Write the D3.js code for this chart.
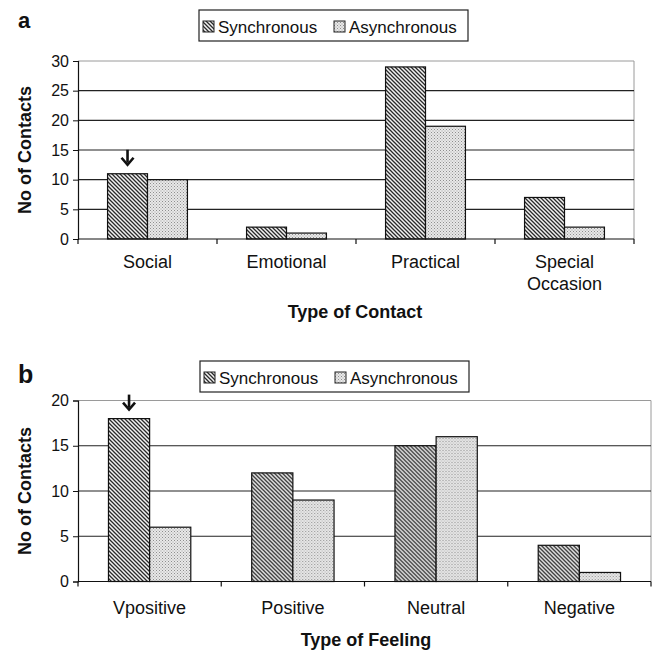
<!DOCTYPE html>
<html>
<head>
<meta charset="utf-8">
<script src="https://cdn.jsdelivr.net/npm/d3@7"></script>
<style>
  body { margin: 0; background: #fff; }
  svg text { font-family: "Liberation Sans", Arial, sans-serif; fill: #111; }
</style>
</head>
<body>
<div id="chart"></div>
<script>
const seriesNames = ['Synchronous', 'Asynchronous'];

const contactTypes = ['Social', 'Emotional', 'Practical', 'Special Occasion'];
const contactSync = [11, 2, 29, 7];
const contactAsync = [10, 1, 19, 2];
const contactTicks = [0, 5, 10, 15, 20, 25, 30];

const feelingTypes = ['Vpositive', 'Positive', 'Neutral', 'Negative'];
const feelingSync = [18, 12, 15, 4];
const feelingAsync = [6, 9, 16, 1];
const feelingTicks = [0, 5, 10, 15, 20];

const svg = d3.select('#chart')
  .append('svg')
  .attr('width', 653)
  .attr('height', 650);

const defs = svg.append('defs');

const hatch = defs.append('pattern')
  .attr('id', 'hatch')
  .attr('patternUnits', 'userSpaceOnUse')
  .attr('width', 4)
  .attr('height', 4);
hatch.append('rect').attr('width', 4).attr('height', 4).attr('fill', '#f2f2f2');
hatch.append('path')
  .attr('d', 'M-1,-1L5,5M3,-1L5,1M-1,3L1,5')
  .attr('stroke', '#2a2a2a')
  .attr('stroke-width', 1.3);

const dots = defs.append('pattern')
  .attr('id', 'dots')
  .attr('patternUnits', 'userSpaceOnUse')
  .attr('width', 3)
  .attr('height', 3);
dots.append('rect').attr('width', 3).attr('height', 3).attr('fill', '#e8e8e8');
dots.append('rect').attr('width', 1).attr('height', 1).attr('fill', '#8e8e8e');
dots.append('rect').attr('x', 1.5).attr('y', 1.5).attr('width', 1).attr('height', 1).attr('fill', '#a0a0a0');

const fills = { Synchronous: 'url(#hatch)', Asynchronous: 'url(#dots)' };

function drawPanel(opts) {
  const g = svg.append('g');
  const rows = opts.categories.map((c, i) => ({
    category: c,
    values: [
      { series: 'Synchronous', value: opts.sync[i] },
      { series: 'Asynchronous', value: opts.async[i] },
    ],
  }));

  const x0 = d3.scaleBand()
    .domain(opts.categories)
    .range([opts.left, opts.right])
    .padding(0);

  const x1 = d3.scaleBand()
    .domain(seriesNames)
    .range([0, x0.bandwidth()])
    .paddingInner(0)
    .paddingOuter(0.74);

  const y = d3.scaleLinear()
    .domain([0, d3.max(opts.ticks)])
    .range([opts.bottom, opts.top]);

  // plot border (top, right) in grey
  g.append('path')
    .attr('d', `M${opts.left},${opts.top}H${opts.right}V${opts.bottom}`)
    .attr('fill', 'none')
    .attr('stroke', '#9a9a9a')
    .attr('stroke-width', 1);

  // gridlines
  g.selectAll('.grid')
    .data(opts.ticks.slice(1, -1))
    .enter()
    .append('line')
    .attr('x1', opts.left)
    .attr('x2', opts.right)
    .attr('y1', d => y(d))
    .attr('y2', d => y(d))
    .attr('stroke', '#222')
    .attr('stroke-width', 1.2);

  // bars
  const groups = g.selectAll('.grp')
    .data(rows)
    .enter()
    .append('g')
    .attr('transform', d => `translate(${x0(d.category)},0)`);

  groups.selectAll('rect')
    .data(d => d.values)
    .enter()
    .append('rect')
    .attr('x', d => x1(d.series))
    .attr('y', d => y(d.value))
    .attr('width', x1.bandwidth())
    .attr('height', d => y(0) - y(d.value))
    .attr('fill', d => fills[d.series])
    .attr('stroke', '#111')
    .attr('stroke-width', 1.2);

  // y axis
  const yAxis = g.append('g')
    .attr('transform', `translate(${opts.left},0)`)
    .call(d3.axisLeft(y).tickValues(opts.ticks).tickSize(5).tickPadding(4));
  yAxis.select('.domain').attr('stroke', '#111').attr('stroke-width', 1.2);
  yAxis.selectAll('.tick line').attr('stroke', '#111');
  yAxis.selectAll('.tick text')
    .attr('font-size', 16)
    .attr('fill', '#111')
    .style('font-family', '"Liberation Sans", Arial, sans-serif');

  // x axis line and ticks at band boundaries
  g.append('line')
    .attr('x1', opts.left)
    .attr('x2', opts.right)
    .attr('y1', y(0))
    .attr('y2', y(0))
    .attr('stroke', '#111')
    .attr('stroke-width', 1.2);

  const bounds = opts.categories.map(c => x0(c)).concat([opts.right]);
  g.selectAll('.xtick')
    .data(bounds)
    .enter()
    .append('line')
    .attr('x1', d => d)
    .attr('x2', d => d)
    .attr('y1', y(0))
    .attr('y2', y(0) + 5)
    .attr('stroke', '#111')
    .attr('stroke-width', 1.2);

  // category labels (wrap two-word labels like "Special Occasion")
  g.selectAll('.xlab')
    .data(opts.categories)
    .enter()
    .append('text')
    .attr('x', d => x0(d) + x0.bandwidth() / 2)
    .attr('y', y(0) + opts.labelGap)
    .attr('text-anchor', 'middle')
    .attr('font-size', 18)
    .each(function (d) {
      const words = opts.wrap && d.includes(' ') ? d.split(' ') : [d];
      words.forEach((w, i) => {
        d3.select(this).append('tspan')
          .attr('x', x0(d) + x0.bandwidth() / 2)
          .attr('dy', i === 0 ? 0 : 22)
          .text(w);
      });
    });

  // axis titles
  g.append('text')
    .attr('transform', `translate(${opts.yTitleX},${(opts.top + opts.bottom) / 2}) rotate(-90)`)
    .attr('text-anchor', 'middle')
    .attr('font-size', 18)
    .attr('font-weight', 'bold')
    .text('No of Contacts');

  g.append('text')
    .attr('x', opts.xTitleX)
    .attr('y', opts.xTitleY)
    .attr('text-anchor', 'middle')
    .attr('font-size', 18)
    .attr('font-weight', 'bold')
    .text(opts.xTitle);

  // panel letter
  g.append('text')
    .attr('x', 18)
    .attr('y', opts.letterY)
    .attr('font-size', opts.letterSize)
    .attr('font-weight', 'bold')
    .text(opts.letter);

  // legend
  const lg = g.append('g').attr('transform', `translate(${opts.legendX},${opts.legendY})`);
  lg.append('rect')
    .attr('width', 269)
    .attr('height', 31)
    .attr('fill', '#fff')
    .attr('stroke', '#222')
    .attr('stroke-width', 1.2);
  const items = [
    { name: 'Synchronous', dx: 4 },
    { name: 'Asynchronous', dx: 135 },
  ];
  items.forEach(it => {
    lg.append('rect')
      .attr('x', it.dx)
      .attr('y', 11)
      .attr('width', 11)
      .attr('height', 11)
      .attr('fill', fills[it.name])
      .attr('stroke', '#222')
      .attr('stroke-width', 1);
    lg.append('text')
      .attr('x', it.dx + 15)
      .attr('y', 23)
      .attr('font-size', 17)
      .text(it.name);
  });

  // arrow marking the first synchronous bar
  const ax = x0(opts.categories[0]) + x1('Synchronous') + x1.bandwidth() / 2;
  const ay = y(opts.sync[0]);
  g.append('path')
    .attr('d', `M${ax},${ay - 24}V${ay - 11}`)
    .attr('stroke', '#111')
    .attr('stroke-width', 2.6);
  g.append('path')
    .attr('d', `M${ax - 6},${ay - 16}L${ax},${ay - 9}L${ax + 6},${ay - 16}`)
    .attr('fill', 'none')
    .attr('stroke', '#111')
    .attr('stroke-width', 2.6);
}

drawPanel({
  categories: contactTypes,
  sync: contactSync,
  async: contactAsync,
  ticks: contactTicks,
  left: 78, right: 634, top: 61, bottom: 239,
  wrap: true, labelGap: 29,
  xTitle: 'Type of Contact', xTitleX: 355, xTitleY: 318,
  yTitleX: 31,
  letter: 'a', letterY: 28, letterSize: 22,
  legendX: 199, legendY: 10,
});

drawPanel({
  categories: feelingTypes,
  sync: feelingSync,
  async: feelingAsync,
  ticks: feelingTicks,
  left: 78, right: 651, top: 400.5, bottom: 581.5,
  wrap: false, labelGap: 32,
  xTitle: 'Type of Feeling', xTitleX: 366, xTitleY: 646,
  yTitleX: 31,
  letter: 'b', letterY: 383, letterSize: 25,
  legendX: 200, legendY: 361,
});
</script>
</body>
</html>
